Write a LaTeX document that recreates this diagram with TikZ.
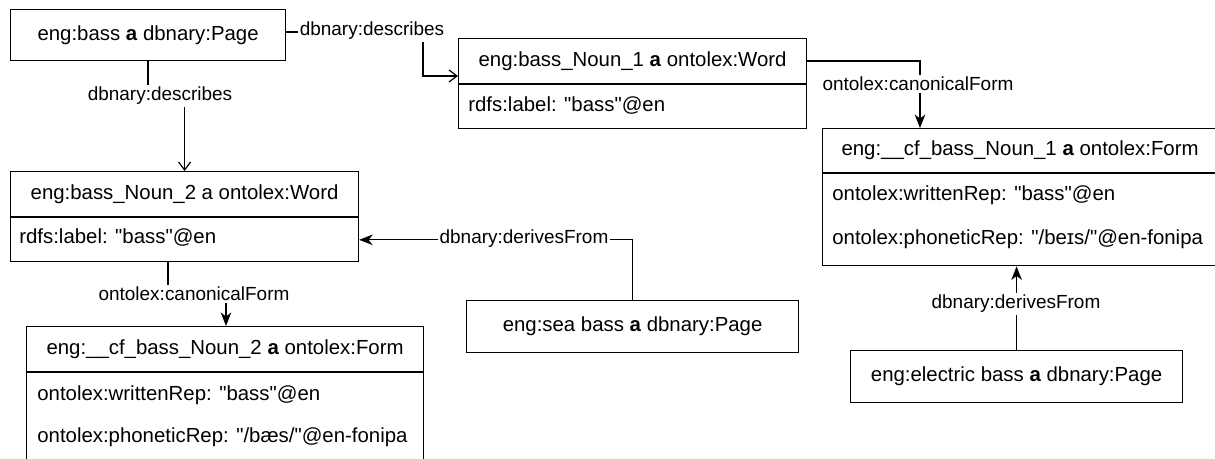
\documentclass[tikz,border=0pt]{standalone}
\usepackage{fontspec}
\setmainfont{Liberation Sans}
\usetikzlibrary{arrows.meta,calc,positioning}

\newcommand{\qt}[1]{\textquotedbl#1\textquotedbl}

\tikzset{
  box/.style={draw, line width=0.7pt, anchor=north west, inner sep=0pt,
    font=\fontsize{11.6}{14}\selectfont},
  row/.style={anchor=west, inner sep=0pt, font=\fontsize{11.6}{14}\selectfont},
  lbl/.style={fill=white, inner sep=1pt, font=\fontsize{10.8}{13}\selectfont},
  link/.style={line width=0.7pt},
  openarr/.style={-{Straight Barb[length=0.16cm,width=0.24cm]}},
  fillarr/.style={-{Stealth[length=0.27cm,width=0.21cm,inset=0.08cm]}},
}

\begin{document}
\begin{tikzpicture}[x=0.02cm, y=-0.02cm]
\useasboundingbox (0,0) rectangle (1215,459);
\clip (0,0) rectangle (1215,459);

% pages
\node[box, minimum width=5.5cm, minimum height=1.02cm] (page) at (10,9) {eng:bass \textbf{a} dbnary:Page};
\node[box, minimum width=6.64cm, minimum height=1.04cm] (sea) at (466,300) {eng:sea bass \textbf{a} dbnary:Page};
\node[box, minimum width=6.64cm, minimum height=1.04cm] (elec) at (850,350) {eng:electric bass \textbf{a} dbnary:Page};

% words
\node[box, minimum width=6.96cm, minimum height=0.9cm] (w1head) at (458,38) {eng:bass\_Noun\_1 \textbf{a} ontolex:Word};
\node[box, minimum width=6.96cm, minimum height=0.88cm, below=0pt of w1head] (w1body) {};
\node[row] (w1label) at (468,106) {rdfs:label: \qt{bass}@en};

\node[box, minimum width=6.96cm, minimum height=0.9cm] (w2head) at (10,171) {eng:bass\_Noun\_2 a ontolex:Word};
\node[box, minimum width=6.96cm, minimum height=0.88cm, below=0pt of w2head] (w2body) {};
\node[row] (w2label) at (19,238) {rdfs:label: \qt{bass}@en};

% forms
\node[box, minimum width=7.9cm, minimum height=0.88cm] (f1head) at (822,128) {eng:\_\_cf\_bass\_Noun\_1 \textbf{a} ontolex:Form};
\node[box, minimum width=7.9cm, minimum height=1.84cm, below=0pt of f1head] (f1body) {};
\node[row] (f1written) at (832,195) {ontolex:writtenRep: \qt{bass}@en};
\node[row] (f1phon) at (832,239) {ontolex:phoneticRep: \qt{/beɪs/}@en-fonipa};

\node[box, minimum width=7.94cm, minimum height=0.9cm] (f2head) at (26,326) {eng:\_\_cf\_bass\_Noun\_2 \textbf{a} ontolex:Form};
\node[box, minimum width=7.94cm, minimum height=2cm, below=0pt of f2head] (f2body) {};
\node[row] (f2written) at (37,395) {ontolex:writtenRep: \qt{bass}@en};
\node[row] (f2phon) at (37,437) {ontolex:phoneticRep: \qt{/bæs/}@en-fonipa};

% links
\draw[link, openarr] (page.east |- 0,32) -- (423,32) -- (423,76) -- (w1head.west |- 0,76);
\draw[link, openarr] (page.south) -- ++(0,36) -| (w2head.north);
\draw[link, fillarr] (w1head.east) -| ($(f1head.north west)+(98,0)$);
\draw[link, fillarr] (sea.north) |- (w2body.east);
\draw[link, fillarr] (elec.north) -- (elec.north |- f1body.south);
\draw[link, fillarr] (w2body.south -| 168,0) -- (168,294) -- (226,294) -- (f2head.north -| 226,0);

\node[lbl] (describes1) at (372,31) {dbnary:describes};
\node[lbl] (describes2) at (160,96) {dbnary:describes};
\node[lbl] (canon1) at (918,84) {ontolex:canonicalForm};
\node[lbl] (canon2) at (194,294) {ontolex:canonicalForm};
\node[lbl] (derives1) at (524,239) {dbnary:derivesFrom};
\node[lbl] (derives2) at (1016,304) {dbnary:derivesFrom};

\end{tikzpicture}
\end{document}
